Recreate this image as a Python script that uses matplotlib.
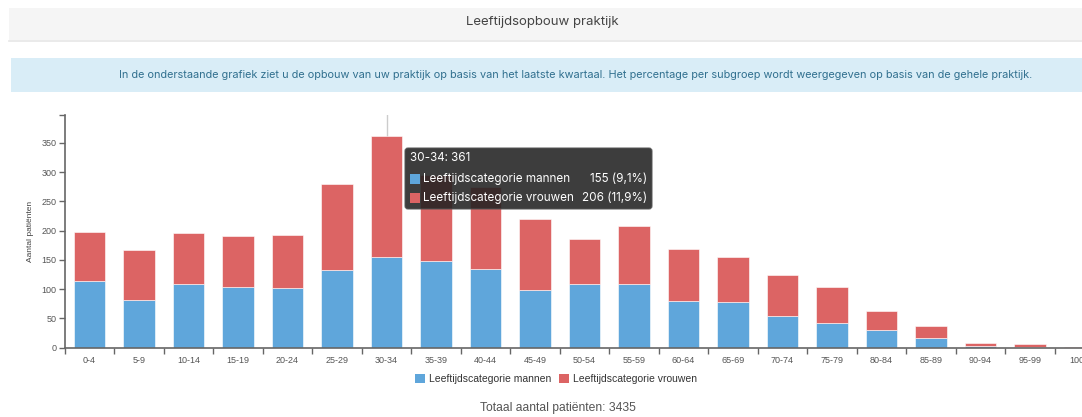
import matplotlib.pyplot as plt
from matplotlib.patches import Rectangle, FancyBboxPatch, Patch
from matplotlib.transforms import IdentityTransform

# data
categories = ["0-4", "5-9", "10-14", "15-19", "20-24", "25-29", "30-34",
              "35-39", "40-44", "45-49", "50-54", "55-59", "60-64", "65-69",
              "70-74", "75-79", "80-84", "85-89", "90-94", "95-99", "100+"]
mannen = [114, 81, 109, 103, 102, 133, 155, 148, 134, 99, 108, 108, 79, 78,
          55, 43, 30, 17, 3, 2, 0]
vrouwen = [83, 86, 87, 88, 91, 147, 206, 147, 141, 121, 78, 100, 90, 77,
           70, 60, 32, 20, 5, 4, 1]
y_ticks = [0, 50, 100, 150, 200, 250, 300, 350]
totaal = sum(mannen) + sum(vrouwen)

W, H = 1082, 417
BLUE = "#5fa6db"
RED = "#dc6464"
SANS = ["Liberation Sans", "DejaVu Sans"]
UI = ["Inter", "DejaVu Sans"]


def fx(x):
    return x / W


def fy(y):
    return 1 - y / H


def main():
    fig = plt.figure(figsize=(W / 100, H / 100), dpi=100)

    # title band
    fig.add_artist(Rectangle((fx(9), fy(40)), fx(1082 - 9), (40 - 8) / H,
                             transform=fig.transFigure, facecolor="#f5f5f5",
                             edgecolor="none", zorder=0))
    fig.add_artist(plt.Line2D([fx(9), 1], [fy(40.5), fy(40.5)],
                              transform=fig.transFigure, color="#e6e6e6",
                              lw=1.2))
    fig.text(fx(542), fy(21.5), "Leeftijdsopbouw praktijk", ha="center",
             va="center", fontsize=9.5, color="#444444", family=UI)

    # info box
    fig.add_artist(Rectangle((fx(11), fy(92)), fx(1082 - 11), (92 - 58) / H,
                             transform=fig.transFigure, facecolor="#d9edf7",
                             edgecolor="none", zorder=0))
    fig.text(fx(576), fy(75),
             "In de onderstaande grafiek ziet u de opbouw van uw praktijk op "
             "basis van het laatste kwartaal. Het percentage per subgroep "
             "wordt weergegeven op basis van de gehele praktijk.",
             ha="center", va="center", fontsize=7.85, color="#31708f",
             family=UI)

    # chart axes (runs off the right edge like the reference)
    band = 49.5
    x0 = 64.75
    ymax = 398
    ax = fig.add_axes([fx(x0), fy(347.7), (21 * band) / W,
                       (347.7 - 114.7) / H])
    ax.set_xlim(-0.5, 20.5)
    ax.set_ylim(0, ymax)
    ax.patch.set_alpha(0)

    xs = range(len(categories))
    ax.axvline(6, color="#cccccc", lw=1, zorder=0)
    ax.bar(xs, mannen, width=0.63, color=BLUE, edgecolor="#ffffff",
           linewidth=0.4, zorder=2)
    ax.bar(xs, vrouwen, width=0.63, bottom=mannen, color=RED,
           edgecolor="#ffffff", linewidth=0.4, zorder=2)

    for s in ["top", "right"]:
        ax.spines[s].set_visible(False)
    for s in ["left", "bottom"]:
        ax.spines[s].set_color("#666666")
        ax.spines[s].set_linewidth(1.2)

    ax.set_yticks(y_ticks + [ymax])
    ax.set_yticklabels([str(v) for v in y_ticks] + [""])
    ax.tick_params(axis="y", length=4, width=1, color="#666666",
                   labelsize=6.5, labelcolor="#555555", pad=2)
    ax.set_xticks(list(xs))
    ax.set_xticklabels(categories)
    ax.tick_params(axis="x", length=0, labelsize=6.5, labelcolor="#555555",
                   pad=6)
    ax.set_xticks([i - 0.5 for i in range(22)], minor=True)
    ax.tick_params(axis="x", which="minor", length=4, width=1,
                   color="#666666")
    for lab in ax.get_xticklabels() + ax.get_yticklabels():
        lab.set_family(SANS)

    fig.text(fx(30), fy(231), "Aantal patiënten", rotation=90, ha="center",
             va="center", fontsize=6, color="#444444", family=SANS)

    # legend
    handles = [Patch(facecolor=BLUE, label="Leeftijdscategorie mannen"),
               Patch(facecolor=RED, label="Leeftijdscategorie vrouwen")]
    fig.legend(handles=handles, loc="center", ncol=2,
               bbox_to_anchor=(fx(556), fy(379)), frameon=False,
               prop={"family": SANS, "size": 7.5}, handlelength=0.9,
               handleheight=0.9, handletextpad=0.4, columnspacing=0.8,
               labelcolor="#333333")

    fig.text(fx(558), fy(408), "Totaal aantal patiënten: %d" % totaal,
             ha="center", va="center", fontsize=8.7, color="#555555",
             family=SANS)

    # tooltip for 30-34
    idx = 6
    tip = IdentityTransform()
    fig.add_artist(FancyBboxPatch((405, H - 209), 247, 61,
                                  boxstyle="round,pad=0,rounding_size=3",
                                  transform=tip, facecolor="#222222",
                                  alpha=0.88, edgecolor="#555555", lw=0.8,
                                  zorder=10))
    pm = mannen[idx] / sum(mannen) * 100
    pv = vrouwen[idx] / sum(vrouwen) * 100
    fig.text(fx(410), fy(158), "%s: %d" % (categories[idx],
                                           mannen[idx] + vrouwen[idx]),
             ha="left", va="center", fontsize=8.4, color="white", family=UI,
             zorder=11)
    rows = [(BLUE, "Leeftijdscategorie mannen", mannen[idx], pm, 179),
            (RED, "Leeftijdscategorie vrouwen", vrouwen[idx], pv, 198)]
    for col, name, val, pct, yy in rows:
        fig.add_artist(Rectangle((410, H - yy - 5), 10, 10, transform=tip,
                                 facecolor=col, edgecolor="none", zorder=11))
        fig.text(fx(423), fy(yy), name, ha="left", va="center", fontsize=8.4,
                 color="white", family=UI, zorder=11)
        fig.text(fx(647), fy(yy), ("%d (%.1f%%)" % (val, pct)).replace(".", ","),
                 ha="right", va="center", fontsize=8.4, color="white",
                 family=UI, zorder=11)

    fig.savefig("out.png", dpi=100, facecolor="white")


if __name__ == "__main__":
    main()
